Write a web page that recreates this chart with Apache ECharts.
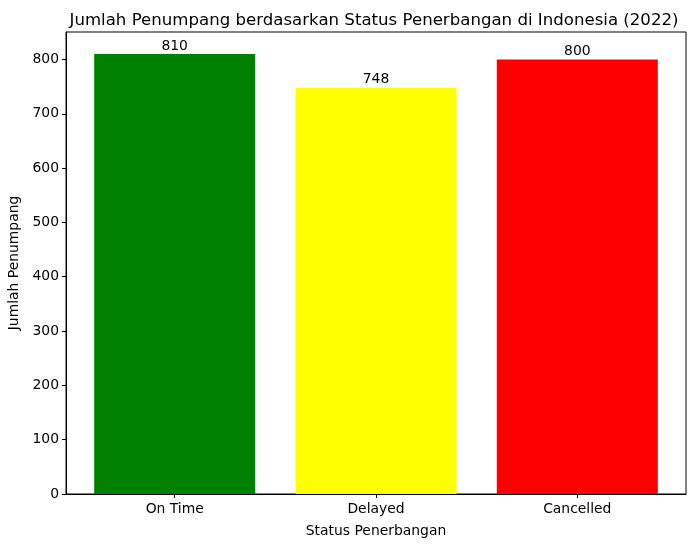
<!DOCTYPE html>
<html>
<head>
<meta charset="utf-8">
<script src="https://cdn.jsdelivr.net/npm/echarts@6/dist/echarts.min.js"></script>
<style>
  html, body { margin: 0; padding: 0; background: #fff; }
  #chart { width: 695px; height: 547px; }
</style>
</head>
<body>
<div id="chart"></div>
<script>
const categories = ["On Time", "Delayed", "Cancelled"];
const passengers = [810, 748, 800];
const barColors = ["#008000", "#ffff00", "#ff0000"];
const yTicks = [0, 100, 200, 300, 400, 500, 600, 700, 800];

const font = "DejaVu Sans";
const chart = echarts.init(document.getElementById("chart"));

// matplotlib style: bar width 0.8, 5% margins on x, 5% headroom on y
const xMin = -0.4 - 0.05 * (categories.length - 1 + 0.8);
const xMax = categories.length - 1 + 0.4 + 0.05 * (categories.length - 1 + 0.8);
const plotWidth = 695 - 66 - 9;
const barPx = 0.8 * plotWidth / (xMax - xMin);

const option = {
  animation: false,
  backgroundColor: "#fff",
  title: {
    text: "Jumlah Penumpang berdasarkan Status Penerbangan di Indonesia (2022)",
    left: 369, top: 7, textAlign: "center",
    textStyle: { fontFamily: font, fontSize: 16.6, fontWeight: "normal", color: "#000" }
  },
  grid: {
    left: 66, right: 9, top: 32, bottom: 53,
    outerBoundsMode: "none",
    show: true, borderColor: "#000", borderWidth: 1, backgroundColor: "transparent"
  },
  xAxis: {
    type: "value",
    min: xMin, max: xMax,
    name: "Status Penerbangan",
    nameLocation: "middle", nameGap: 30,
    nameTextStyle: { fontFamily: font, fontSize: 13.9, color: "#000" },
    axisLine: { show: true, onZero: false, lineStyle: { color: "#000", width: 1 } },
    axisTick: { show: true, length: 4, customValues: [0, 1, 2], lineStyle: { color: "#000" } },
    axisLabel: {
      customValues: [0, 1, 2], margin: 8,
      fontFamily: font, fontSize: 13.9, color: "#000",
      formatter: v => categories[Math.round(v)]
    },
    splitLine: { show: false }
  },
  yAxis: {
    type: "value",
    min: 0, max: 810 * 1.05,
    name: "Jumlah Penumpang",
    nameLocation: "middle", nameGap: 44, nameRotate: 90,
    nameTextStyle: { fontFamily: font, fontSize: 13.9, color: "#000" },
    axisLine: { show: true, onZero: false, lineStyle: { color: "#000", width: 1 } },
    axisTick: { show: true, length: 4, customValues: yTicks, lineStyle: { color: "#000" } },
    axisLabel: { customValues: yTicks, margin: 7, fontFamily: font, fontSize: 13.9, color: "#000" },
    splitLine: { show: false }
  },
  series: [{
    type: "bar",
    barWidth: barPx,
    data: passengers.map((v, i) => ({ value: [i, v], itemStyle: { color: barColors[i] } })),
    label: {
      show: true, position: "top", distance: 1,
      fontFamily: font, fontSize: 13.9, color: "#000",
      formatter: p => p.value[1]
    }
  }]
};

chart.setOption(option);
</script>
</body>
</html>
